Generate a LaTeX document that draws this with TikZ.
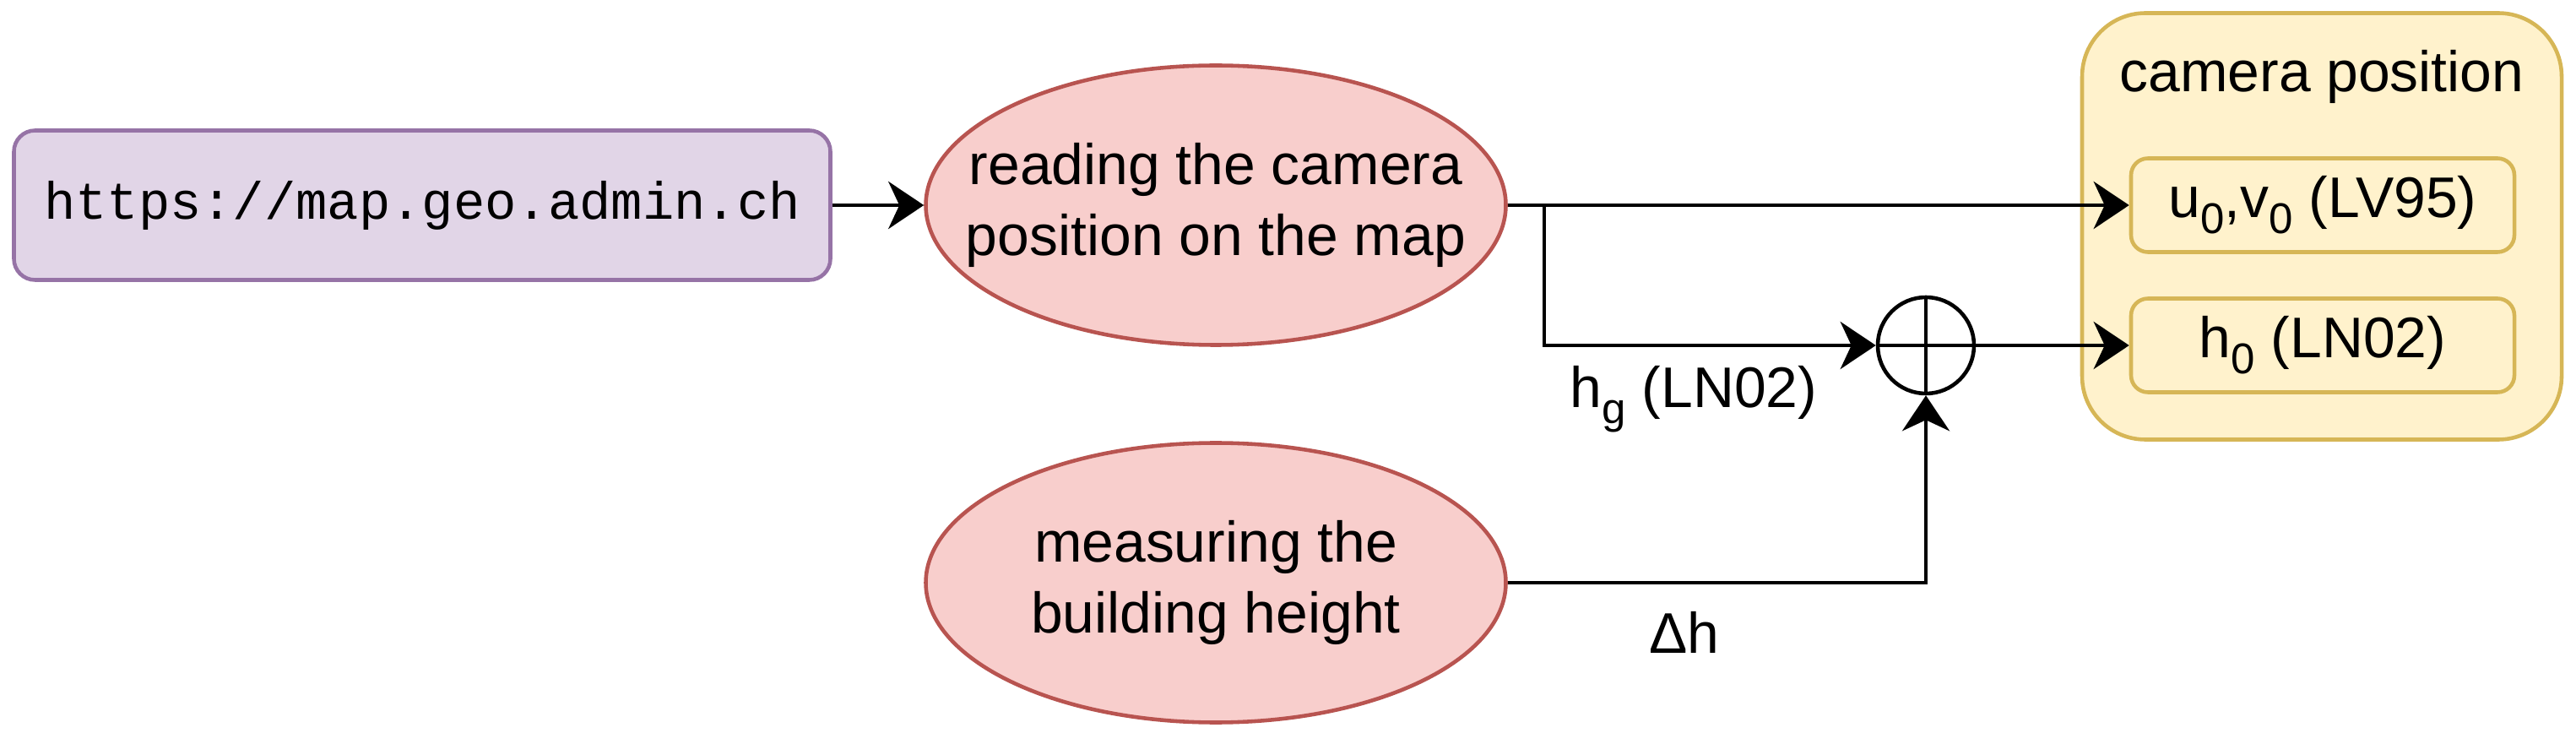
\documentclass[tikz,border=0pt]{standalone}
\usepackage{fontspec}
\setmainfont{Liberation Sans}
\setmonofont{Liberation Mono}
\usetikzlibrary{arrows.meta,positioning,shapes.geometric}
\definecolor{urlfill}{HTML}{E1D5E7}
\definecolor{urldraw}{HTML}{9673A6}
\definecolor{procfill}{HTML}{F8CECC}
\definecolor{procdraw}{HTML}{B85450}
\definecolor{camfill}{HTML}{FFF2CC}
\definecolor{camdraw}{HTML}{D6B656}
\newcommand{\lowsub}[1]{\raisebox{-0.28em}{\fontsize{14.5}{15}\selectfont #1}}
\tikzset{
  txt/.style={font=\fontsize{19.3}{24}\selectfont, align=center, inner sep=0pt},
  url/.style={txt, draw=urldraw, fill=urlfill, line width=1.3pt, rounded corners=0.25cm, minimum width=9.67cm, minimum height=1.77cm, font=\fontsize{17.7}{22}\selectfont\ttfamily},
  proc/.style={ellipse, draw=procdraw, fill=procfill, line width=1.3pt, minimum width=6.87cm, minimum height=3.31cm, inner sep=0pt},
  outer/.style={draw=camdraw, fill=camfill, line width=1.3pt, rounded corners=0.75cm, minimum width=5.68cm, minimum height=5.05cm, inner sep=0pt},
  slot/.style={txt, draw=camdraw, fill=camfill, line width=1.3pt, rounded corners=0.2cm, minimum width=4.54cm, minimum height=1.11cm},
  sumc/.style={circle, draw=black, line width=1.3pt, minimum size=1.14cm, inner sep=0pt},
  arr/.style={-{Stealth[length=4.2mm, width=5.6mm, inset=1.3mm]}, line width=1.3pt, color=black},
  lbl/.style={txt},
}
\begin{document}
\begin{tikzpicture}
  \useasboundingbox (0,0) rectangle (30.51,-8.81);
  % sources
  \node[url] (web) at (5.00,-2.43) {https://map.geo.admin.ch};
  \node[proc, label={[txt]center:reading the camera\\position on the map}] (read) at (14.40,-2.43) {};
  \node[proc, label={[txt]center:measuring the\\building height}] (meas) at (14.40,-6.90) {};
  % summing point
  \node[sumc] (sum) at (22.81,-4.09) {};
  \draw[line width=1.3pt] (sum.north) -- (sum.south) (sum.west) -- (sum.east);
  % result
  \node[outer] (cam) at (27.50,-2.68) {};
  \node[txt] (title) at (27.50,-0.91) {camera position};
  \node[slot] (uv) at (27.51,-2.43) {u\lowsub{0},v\lowsub{0} (LV95)};
  \node[slot] (h0) at (27.51,-4.09) {h\lowsub{0} (LN02)};
  \coordinate (br) at (18.29,-2.43);
  \draw[arr] (web) -- (read);
  \draw[arr] (read.east) -- (uv.west);
  \draw[arr] (br) |- (sum.west);
  \draw[arr] (sum.east) -- (h0.west);
  \draw[arr] (meas.east) -| (sum.south);
  \node[lbl] (hg) at (20.06,-4.73) {h\lowsub{g} (LN02)};
  \node[lbl] (dh) at (19.95,-7.49) {Δh};
\end{tikzpicture}
\end{document}
